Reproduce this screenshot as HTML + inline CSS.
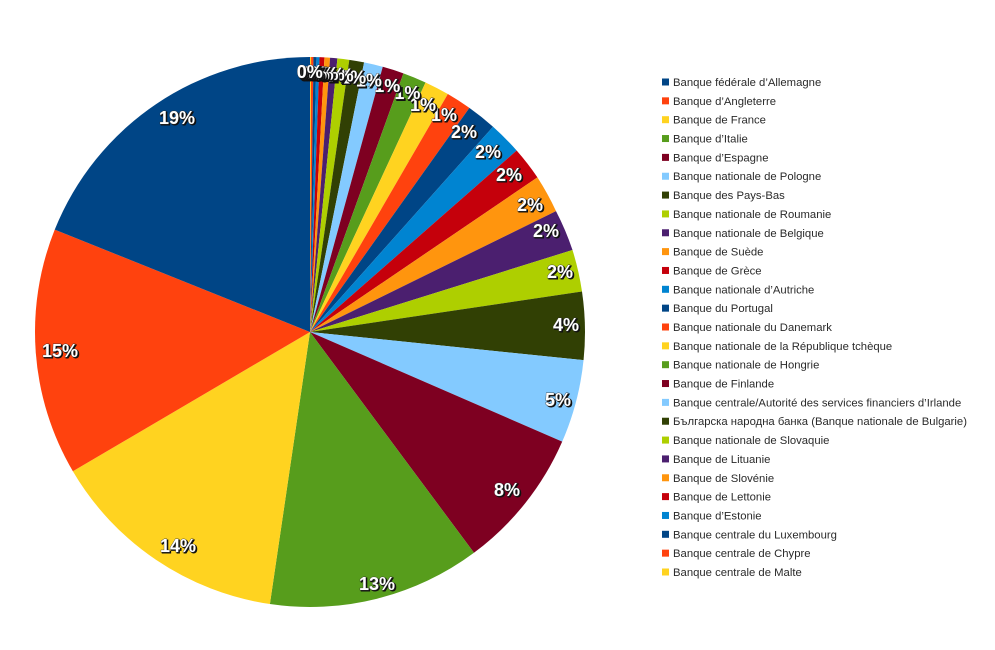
<!DOCTYPE html>
<html>
<head>
<meta charset="utf-8">
<style>
html,body{margin:0;padding:0;background:#fff;}
svg{display:block;}
.lb{font-family:"Liberation Sans",Arial,sans-serif;font-weight:bold;font-size:18px;text-anchor:middle;}
.sh{fill:#111;stroke:#111;stroke-width:1;}
.fg{fill:#fff;stroke:#333;stroke-width:0.7;paint-order:stroke;}
.lg{font-family:"Liberation Sans","Noto Sans CJK SC",sans-serif;font-size:11.3px;fill:#2a2a2a;}
</style>
</head>
<body>
<svg width="995" height="650" viewBox="0 0 995 650" xmlns="http://www.w3.org/2000/svg">
<rect width="995" height="650" fill="#fff"/>
<g>
<path d="M310,332 L310,57 A275,275 0 0,1 311.09,57.00 Z" fill="#ffd320"/>
<path d="M310,332 L311.09,57.00 A275,275 0 0,1 313.46,57.02 Z" fill="#ff420e"/>
<path d="M310,332 L313.46,57.02 A275,275 0 0,1 316.48,57.08 Z" fill="#004586"/>
<path d="M310,332 L316.48,57.08 A275,275 0 0,1 319.57,57.17 Z" fill="#0084d1"/>
<path d="M310,332 L319.57,57.17 A275,275 0 0,1 324.46,57.38 Z" fill="#c5000b"/>
<path d="M310,332 L324.46,57.38 A275,275 0 0,1 330.10,57.74 Z" fill="#ff950e"/>
<path d="M310,332 L330.10,57.74 A275,275 0 0,1 337.43,58.37 Z" fill="#4b1f6f"/>
<path d="M310,332 L337.43,58.37 A275,275 0 0,1 349.32,59.83 Z" fill="#aecf00"/>
<path d="M310,332 L349.32,59.83 A275,275 0 0,1 364.11,62.38 Z" fill="#314004"/>
<path d="M310,332 L364.11,62.38 A275,275 0 0,1 382.78,66.80 Z" fill="#83caff"/>
<path d="M310,332 L382.78,66.80 A275,275 0 0,1 403.42,73.35 Z" fill="#7e0021"/>
<path d="M310,332 L403.42,73.35 A275,275 0 0,1 425.55,82.46 Z" fill="#579d1c"/>
<path d="M310,332 L425.55,82.46 A275,275 0 0,1 447.84,94.04 Z" fill="#ffd320"/>
<path d="M310,332 L447.84,94.04 A275,275 0 0,1 469.39,107.90 Z" fill="#ff420e"/>
<path d="M310,332 L469.39,107.90 A275,275 0 0,1 493.03,126.75 Z" fill="#004586"/>
<path d="M310,332 L493.03,126.75 A275,275 0 0,1 516.64,150.55 Z" fill="#0084d1"/>
<path d="M310,332 L516.64,150.55 A275,275 0 0,1 537.42,177.39 Z" fill="#c5000b"/>
<path d="M310,332 L537.42,177.39 A275,275 0 0,1 556.00,211.10 Z" fill="#ff950e"/>
<path d="M310,332 L556.00,211.10 A275,275 0 0,1 572.49,249.99 Z" fill="#4b1f6f"/>
<path d="M310,332 L572.49,249.99 A275,275 0 0,1 581.99,291.46 Z" fill="#aecf00"/>
<path d="M310,332 L581.99,291.46 A275,275 0 0,1 583.55,360.17 Z" fill="#314004"/>
<path d="M310,332 L583.55,360.17 A275,275 0 0,1 562.19,441.67 Z" fill="#83caff"/>
<path d="M310,332 L562.19,441.67 A275,275 0 0,1 473.97,552.77 Z" fill="#7e0021"/>
<path d="M310,332 L473.97,552.77 A275,275 0 0,1 269.90,604.06 Z" fill="#579d1c"/>
<path d="M310,332 L269.90,604.06 A275,275 0 0,1 72.86,471.24 Z" fill="#ffd320"/>
<path d="M310,332 L72.86,471.24 A275,275 0 0,1 54.74,229.68 Z" fill="#ff420e"/>
<path d="M310,332 L54.74,229.68 A275,275 0 0,1 310,57 Z" fill="#004586"/>
</g>

<g class="lb">
<text class="sh" x="178.2" y="125.2">19%</text><text class="fg" x="177" y="124">19%</text>
<text class="sh" x="61.2" y="358.2">15%</text><text class="fg" x="60" y="357">15%</text>
<text class="sh" x="179.2" y="553.2">14%</text><text class="fg" x="178" y="552">14%</text>
<text class="sh" x="378.2" y="591.2">13%</text><text class="fg" x="377" y="590">13%</text>
<text class="sh" x="508.2" y="497.2">8%</text><text class="fg" x="507" y="496">8%</text>
<text class="sh" x="559.2" y="407.2">5%</text><text class="fg" x="558" y="406">5%</text>
<text class="sh" x="567.2" y="332.2">4%</text><text class="fg" x="566" y="331">4%</text>
<text class="sh" x="561.2" y="279.2">2%</text><text class="fg" x="560" y="278">2%</text>
<text class="sh" x="547.2" y="238.2">2%</text><text class="fg" x="546" y="237">2%</text>
<text class="sh" x="531.2" y="212.2">2%</text><text class="fg" x="530" y="211">2%</text>
<text class="sh" x="510.2" y="182.2">2%</text><text class="fg" x="509" y="181">2%</text>
<text class="sh" x="489.2" y="159.2">2%</text><text class="fg" x="488" y="158">2%</text>
<text class="sh" x="465.2" y="139.2">2%</text><text class="fg" x="464" y="138">2%</text>
<text class="sh" x="445.2" y="122.2">1%</text><text class="fg" x="444" y="121">1%</text>
<text class="sh" x="424.2" y="112.2">1%</text><text class="fg" x="423" y="111">1%</text>
<text class="sh" x="408.6" y="100.3">1%</text><text class="fg" x="407.4" y="99.1">1%</text>
<text class="sh" x="388.5" y="93.0">1%</text><text class="fg" x="387.3" y="91.8">1%</text>
<text class="sh" x="370.1" y="87.9">1%</text><text class="fg" x="368.9" y="86.7">1%</text>
<text class="sh" x="354.3" y="84.7">1%</text><text class="fg" x="353.1" y="83.5">1%</text>
<text class="sh" x="341.8" y="82.8">1%</text><text class="fg" x="340.6" y="81.6">1%</text>
<text class="sh" x="332.8" y="81.9">0%</text><text class="fg" x="331.6" y="80.7">0%</text>
<text class="sh" x="326.7" y="81.4">0%</text><text class="fg" x="325.5" y="80.2">0%</text>
<text class="sh" x="321.8" y="81.1">0%</text><text class="fg" x="320.6" y="79.9">0%</text>
<text class="sh" x="318.0" y="81.0">0%</text><text class="fg" x="316.8" y="79.8">0%</text>
<text class="sh" x="315.2" y="80.9">0%</text><text class="fg" x="314" y="79.7">0%</text>
<text class="sh" x="312.6" y="80.9">0%</text><text class="fg" x="311.4" y="79.7">0%</text>
<text class="sh" x="311.0" y="79.4">0%</text><text class="fg" x="309.8" y="78.2">0%</text>
</g>

<g>
<g transform="translate(0,0)"><rect x="662" y="78.5" width="7" height="7" fill="#004586"/><text class="lg" x="673" y="86">Banque fédérale d’Allemagne</text></g>
<g transform="translate(0,18.846)"><rect x="662" y="78.5" width="7" height="7" fill="#ff420e"/><text class="lg" x="673" y="86">Banque d’Angleterre</text></g>
<g transform="translate(0,37.692)"><rect x="662" y="78.5" width="7" height="7" fill="#ffd320"/><text class="lg" x="673" y="86">Banque de France</text></g>
<g transform="translate(0,56.538)"><rect x="662" y="78.5" width="7" height="7" fill="#579d1c"/><text class="lg" x="673" y="86">Banque d’Italie</text></g>
<g transform="translate(0,75.384)"><rect x="662" y="78.5" width="7" height="7" fill="#7e0021"/><text class="lg" x="673" y="86">Banque d’Espagne</text></g>
<g transform="translate(0,94.23)"><rect x="662" y="78.5" width="7" height="7" fill="#83caff"/><text class="lg" x="673" y="86">Banque nationale de Pologne</text></g>
<g transform="translate(0,113.076)"><rect x="662" y="78.5" width="7" height="7" fill="#314004"/><text class="lg" x="673" y="86">Banque des Pays-Bas</text></g>
<g transform="translate(0,131.922)"><rect x="662" y="78.5" width="7" height="7" fill="#aecf00"/><text class="lg" x="673" y="86">Banque nationale de Roumanie</text></g>
<g transform="translate(0,150.768)"><rect x="662" y="78.5" width="7" height="7" fill="#4b1f6f"/><text class="lg" x="673" y="86">Banque nationale de Belgique</text></g>
<g transform="translate(0,169.614)"><rect x="662" y="78.5" width="7" height="7" fill="#ff950e"/><text class="lg" x="673" y="86">Banque de Suède</text></g>
<g transform="translate(0,188.46)"><rect x="662" y="78.5" width="7" height="7" fill="#c5000b"/><text class="lg" x="673" y="86">Banque de Grèce</text></g>
<g transform="translate(0,207.306)"><rect x="662" y="78.5" width="7" height="7" fill="#0084d1"/><text class="lg" x="673" y="86">Banque nationale d’Autriche</text></g>
<g transform="translate(0,226.152)"><rect x="662" y="78.5" width="7" height="7" fill="#004586"/><text class="lg" x="673" y="86">Banque du Portugal</text></g>
<g transform="translate(0,244.998)"><rect x="662" y="78.5" width="7" height="7" fill="#ff420e"/><text class="lg" x="673" y="86">Banque nationale du Danemark</text></g>
<g transform="translate(0,263.844)"><rect x="662" y="78.5" width="7" height="7" fill="#ffd320"/><text class="lg" x="673" y="86">Banque nationale de la République tchèque</text></g>
<g transform="translate(0,282.69)"><rect x="662" y="78.5" width="7" height="7" fill="#579d1c"/><text class="lg" x="673" y="86">Banque nationale de Hongrie</text></g>
<g transform="translate(0,301.536)"><rect x="662" y="78.5" width="7" height="7" fill="#7e0021"/><text class="lg" x="673" y="86">Banque de Finlande</text></g>
<g transform="translate(0,320.382)"><rect x="662" y="78.5" width="7" height="7" fill="#83caff"/><text class="lg" x="673" y="86">Banque centrale/Autorité des services financiers d’Irlande</text></g>
<g transform="translate(0,339.228)"><rect x="662" y="78.5" width="7" height="7" fill="#314004"/><text class="lg" x="673" y="86">Българска народна банка (Banque nationale de Bulgarie)</text></g>
<g transform="translate(0,358.074)"><rect x="662" y="78.5" width="7" height="7" fill="#aecf00"/><text class="lg" x="673" y="86">Banque nationale de Slovaquie</text></g>
<g transform="translate(0,376.92)"><rect x="662" y="78.5" width="7" height="7" fill="#4b1f6f"/><text class="lg" x="673" y="86">Banque de Lituanie</text></g>
<g transform="translate(0,395.766)"><rect x="662" y="78.5" width="7" height="7" fill="#ff950e"/><text class="lg" x="673" y="86">Banque de Slovénie</text></g>
<g transform="translate(0,414.612)"><rect x="662" y="78.5" width="7" height="7" fill="#c5000b"/><text class="lg" x="673" y="86">Banque de Lettonie</text></g>
<g transform="translate(0,433.458)"><rect x="662" y="78.5" width="7" height="7" fill="#0084d1"/><text class="lg" x="673" y="86">Banque d’Estonie</text></g>
<g transform="translate(0,452.304)"><rect x="662" y="78.5" width="7" height="7" fill="#004586"/><text class="lg" x="673" y="86">Banque centrale du Luxembourg</text></g>
<g transform="translate(0,471.15)"><rect x="662" y="78.5" width="7" height="7" fill="#ff420e"/><text class="lg" x="673" y="86">Banque centrale de Chypre</text></g>
<g transform="translate(0,489.996)"><rect x="662" y="78.5" width="7" height="7" fill="#ffd320"/><text class="lg" x="673" y="86">Banque centrale de Malte</text></g>
</g>
</svg>
</body>
</html>
